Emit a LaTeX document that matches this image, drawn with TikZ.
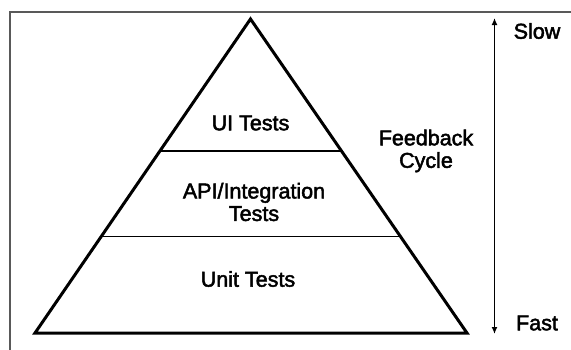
\documentclass[tikz,border=0pt]{standalone}
\usepackage{fontspec}
\setmainfont{Liberation Sans}
\newfontfamily\lblfont{Liberation Sans}[FakeBold=2.2]
\usetikzlibrary{arrows.meta,calc}
\begin{document}
\begin{tikzpicture}[x=1pt,y=-1pt,
  lbl/.style={font=\lblfont\fontsize{21.5}{22.5}\selectfont, align=center, inner sep=0pt},
  pyr/.style={line width=3pt, line join=miter},
  divider/.style={line width=1.9pt},
  frame/.style={line width=1.6pt, draw=black!65},
  cyc/.style={line width=1.6pt, {Latex[length=7pt,width=6pt]}-{Latex[length=7pt,width=6pt]}}]
\useasboundingbox (0,0) rectangle (571,349);
\clip (0,0) rectangle (571,349);
\draw[frame] (10,360) -- (10,12) -- (580,12);
\coordinate (A) at (250.5,19);
\coordinate (BL) at (35,333);
\coordinate (BR) at (467,333);
\draw[pyr] (A) -- (BL) -- (BR) -- cycle;
\coordinate (L1) at ($(A)!0.4204!(BL)$);
\coordinate (R1) at ($(A)!0.4204!(BR)$);
\coordinate (L2) at ($(A)!0.6925!(BL)$);
\coordinate (R2) at ($(A)!0.6925!(BR)$);
\draw[divider] (L1) -- (R1);
\draw[divider] (L2) -- (R2);
\node[lbl] (ui) at (250.5,123) {UI Tests};
\node[lbl] (api) at (254,202) {API/Integration\\Tests};
\node[lbl] (unit) at (248,279) {Unit Tests};
\node[lbl] (fb) at (426,151) {Feedback\\Cycle};
\coordinate (top) at (494.5,18);
\coordinate (bot) at (494.5,334);
\draw[cyc] (bot) -- (top);
\node[lbl] (slow) at (537,31) {Slow};
\node[lbl] (fast) at (537,323) {Fast};
\end{tikzpicture}
\end{document}
